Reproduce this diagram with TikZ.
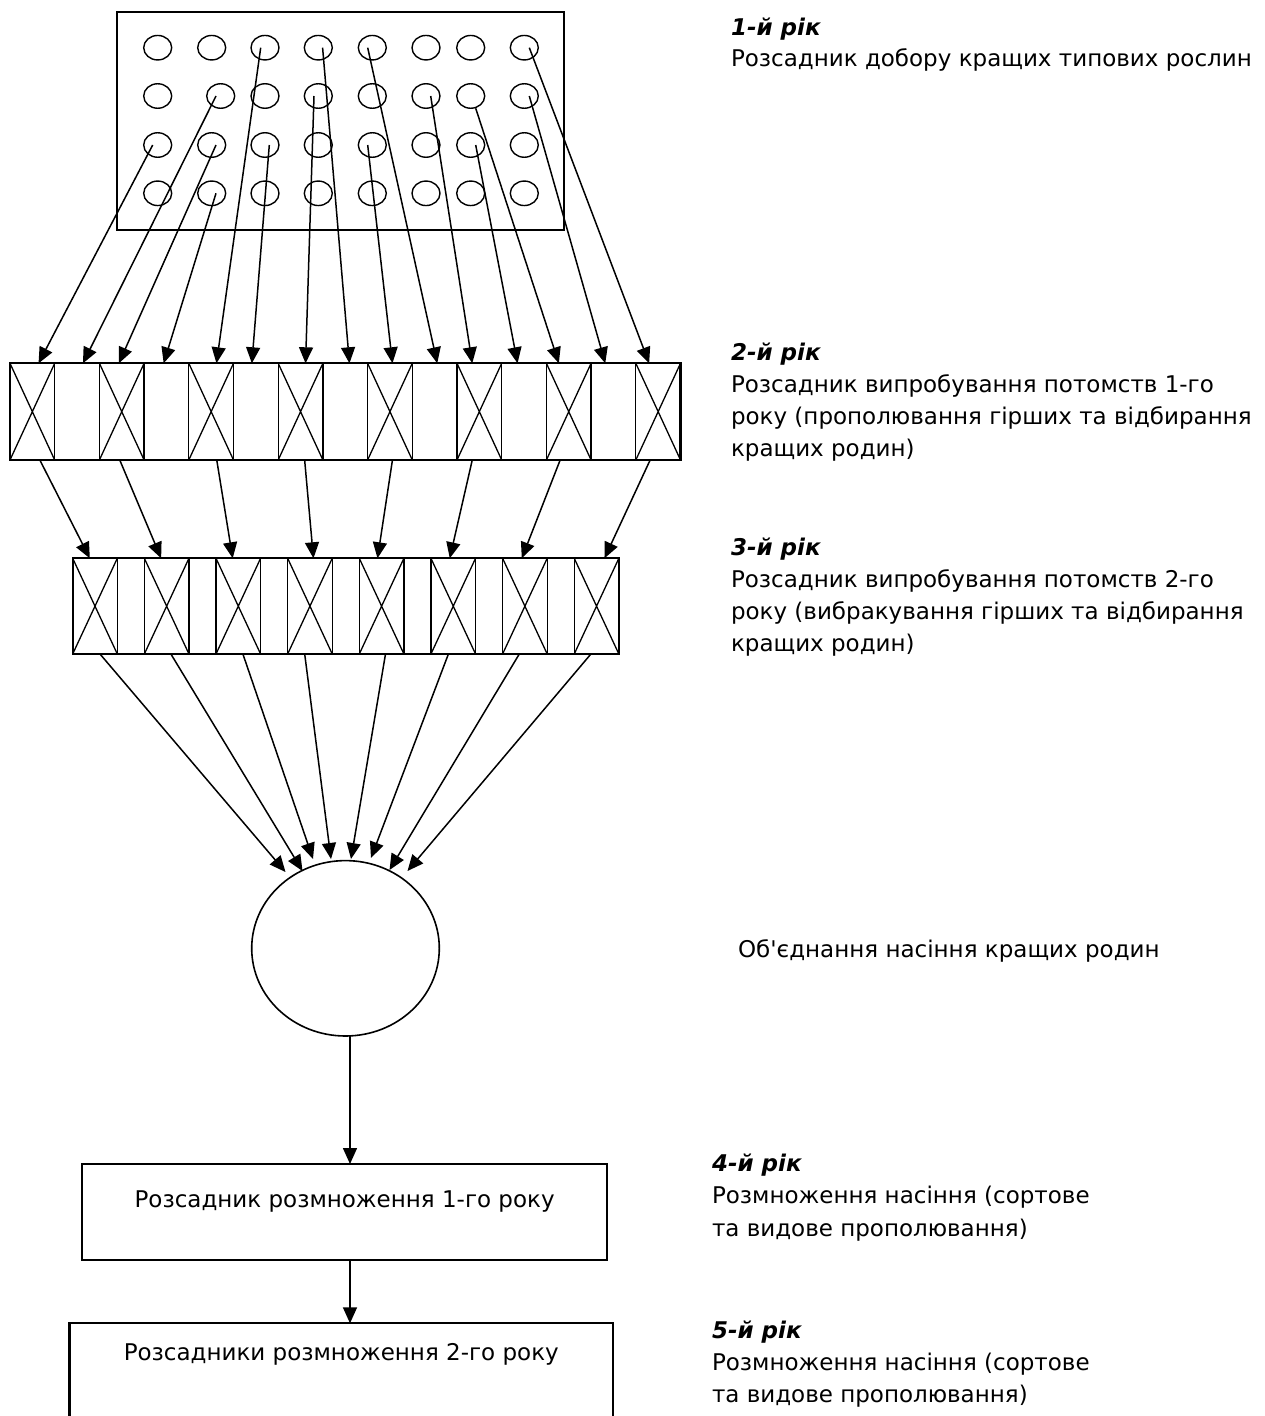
\documentclass[tikz,border=0pt]{standalone}
\usepackage{fontspec}
\newfontfamily\uaf{DejaVu Sans}
\usetikzlibrary{arrows.meta,shapes.geometric}
\begin{document}
\begin{tikzpicture}[x=1pt,y=-1pt,
  every node/.style={inner sep=0pt, outer sep=0pt},
  conn/.style={line width=1.5pt, -{Triangle[length=16pt,width=14pt]}},
  seed/.style={draw, ellipse, line width=1.4pt, minimum width=28pt, minimum height=24.5pt},
  cellbox/.style={draw, line width=1.3pt, minimum width=44.7pt, minimum height=96.7pt},
  xcellbox/.style={cellbox, path picture={\draw[line width=1.3pt]
     (path picture bounding box.north west) -- (path picture bounding box.south east)
     (path picture bounding box.north east) -- (path picture bounding box.south west);}},
  xcellthree/.style={xcellbox, minimum width=44.6pt, minimum height=95.7pt},
  bigbox/.style={draw, line width=2.1pt},
  txt/.style={font=\uaf\fontsize{23}{32}\selectfont, anchor=base west},
  yr/.style={font=\uaf\fontsize{23}{32}\selectfont\bfseries\itshape, anchor=base west},
  boxtxt/.style={bigbox, font=\uaf\fontsize{23}{32}\selectfont, text height=15pt},
]
\path[use as bounding box] (0,0) rectangle (1265,1416);
\fill[white] (0,0) rectangle (1265,1416);
\clip (0,0) rectangle (1265,1416);

% ---- year 1: selection field ----
\node[bigbox, minimum width=447pt, minimum height=218.3pt] (field) at (340.8,120.85) {};
\foreach \r/\y in {1/47.7,3/145,4/193.3}
  \foreach \c/\x in {1/157.7,2/211.7,3/265,4/318.3,5/372.3,6/426,7/470.7,8/524.3}
    \node[seed] (c\r\c) at (\x,\y) {};
\foreach \c/\x in {1/157.7,2/220.7,3/265,4/318.3,5/372.3,6/426,7/470.7,8/524.3}
  \node[seed] (c2\c) at (\x,96) {};

% ---- year 2 row ----
\foreach \k in {1,3,...,15}
  \node[xcellbox] (r2-\k) at ({10+44.7*(\k-0.5)},411.65) {};
\foreach \k in {2,4,...,14}
  \node[cellbox] (r2-\k) at ({10+44.7*(\k-0.5)},411.65) {};
\draw[bigbox] (r2-1.north west) rectangle (r2-15.south east);

% ---- year 3 row ----
\foreach \k in {1,...,8}
  \node[xcellthree] (r3-\k) at ({95+71.65*(\k-1)},606.15) {};
\draw[bigbox] (r3-1.north west) rectangle (r3-8.south east);

% ---- pooled seed ----
\node[draw, ellipse, line width=1.6pt, minimum width=187.6pt, minimum height=175.4pt] (pool) at (345.5,948.3) {};

% ---- years 4 and 5 ----
\node[boxtxt, minimum width=524.8pt, minimum height=96pt, text depth=25pt] (box4) at (344.6,1212) {Розсадник розмноження 1-го року};
\node[boxtxt, minimum width=543.5pt, minimum height=130pt, text depth=71.6pt] (box5) at (341.25,1388.3) {Розсадники розмноження 2-го року};

% ---- arrows year 1 -> year 2 ----
\foreach \s/\sx/\t/\tx in {c31.center/-5/1/6.2, c22.center/-4.7/2/5.9, c32.center/4.3/3/-2.9,
    c42.center/4.3/4/-2.8, c13.center/-4.3/5/5.3, c33.center/4.3/6/-4.0, c24.center/-4.3/7/5.0,
    c14.center/4.3/8/4.2, c35.center/-4.6/9/2.5, c15.center/-4.6/10/2.6, c26.center/4.7/11/-7.1,
    c37.center/5/12/-6.5, c27.south/5/13/-9.9, c28.center/5/14/-8.2, c18.center/5/15/-9.0}
  \draw[conn] ([xshift=\sx pt]\s) -- ([xshift=\tx pt]r2-\t.north);

% ---- arrows year 2 -> year 3 ----
\foreach \s/\sx/\t/\tx in {1/7.5/1/-5.2, 3/-2/2/-5.5, 5/5.6/3/-5.6, 7/4.1/4/3.5,
    9/2.5/5/-4.1, 11/-7.1/6/-3.5, 13/-8.6/7/-3.1, 15/-8/8/7.9}
  \draw[conn] ([xshift=\sx pt]r2-\s.south) -- ([xshift=\tx pt]r3-\t.north);

% ---- arrows year 3 -> pooled seed ----
\coordinate (e1) at (285.5,872);
\coordinate (e2) at (302.5,871);
\coordinate (e3) at (313,859);
\coordinate (e4) at (331,859);
\coordinate (e5) at (351,859);
\coordinate (e6) at (371,858);
\coordinate (e7) at (389.5,870);
\coordinate (e8) at (407.5,871);
\foreach \s/\sx in {1/5, 2/4.25, 3/4.6, 4/-5.25, 5/3.9, 6/-4.85, 7/-5.6, 8/-5.65}
  \draw[conn] ([xshift=\sx pt]r3-\s.south) -- (e\s);

% ---- pooled -> year 4 -> year 5 ----
\draw[conn] ([xshift=4.5pt]pool.south) -- ([xshift=4.5pt]pool.south |- box4.north);
\draw[conn] ([xshift=5.4pt]box4.south) -- ([xshift=5.4pt]box4.south |- box5.north);

% ---- captions ----
\node[yr] (y1) at (731,35) {1-й рік};
\node[txt] (y1a) at (731,66) {Розсадник добору кращих типових рослин};

\node[yr] (y2) at (731,360) {2-й рік};
\node[txt] (y2a) at (731,392.5) {Розсадник випробування потомств 1-го};
\node[txt] (y2b) at (731,424.5) {року (прополювання гірших та відбирання};
\node[txt] (y2c) at (731,456.5) {кращих родин)};

\node[yr] (y3) at (731,555) {3-й рік};
\node[txt] (y3a) at (731,587.3) {Розсадник випробування потомств 2-го};
\node[txt] (y3b) at (731,619.5) {року (вибракування гірших та відбирання};
\node[txt] (y3c) at (731,651.7) {кращих родин)};

\node[txt] (ypool) at (738,957) {Об'єднання насіння кращих родин};

\node[yr] (y4) at (712,1171.7) {4-й рік};
\node[txt] (y4a) at (712,1203.5) {Розмноження насіння (сортове};
\node[txt] (y4b) at (712,1236) {та видове прополювання)};

\node[yr] (y5) at (712,1338.3) {5-й рік};
\node[txt] (y5a) at (712,1370) {Розмноження насіння (сортове};
\node[txt] (y5b) at (712,1402) {та видове прополювання)};
\end{tikzpicture}
\end{document}
